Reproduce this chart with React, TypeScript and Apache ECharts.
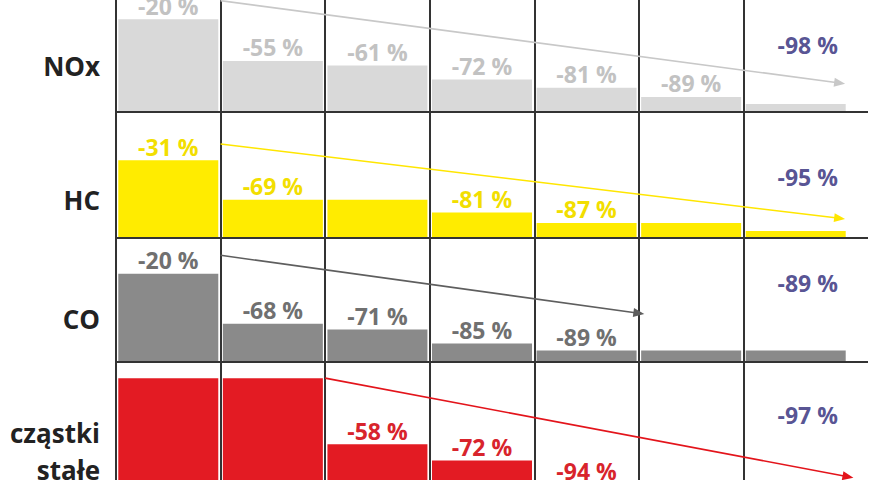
import { useEffect, useRef } from 'react';
import * as echarts from 'echarts';

// kolumny (etapy norm) – osie są ukryte
const stages = ['1', '2', '3', '4', '5', '6', '7'];

const noxLevels = [80, 44, 40, 28, 21, 13, 7];
const hcLevels = [67, 33, 33, 22, 13, 13, 6];
const coLevels = [76, 33, 28, 16, 10, 10, 10];
const pmLevels = [99, 99, 42, 28, 7, 7, 3];

// etykiety redukcji nad słupkami
const noxLabels = ['-20 %', '-55 %', '-61 %', '-72 %', '-81 %', '-89 %', ''];
const hcLabels = ['-31 %', '-69 %', '', '-81 %', '-87 %', '', ''];
const coLabels = ['-20 %', '-68 %', '-71 %', '-85 %', '-89 %', '', ''];
const pmLabels = ['', '', '-58 %', '-72 %', '-94 %', '', ''];

// redukcja końcowa (ostatnia kolumna) i jej wysokość na osi
const finalLabels = ['-98 %', '-95 %', '-89 %', '-97 %'];
const finalLevels = [58, 53, 68, 67];

// strzałki trendu: [x0, y0, x1, y1] w jednostkach osi (x: 0..7)
const noxArrow = [1, 96, 6.92, 25];
const hcArrow = [1, 81, 6.92, 17];
const coArrow = [1, 92, 5, 42];
const pmArrow = [2, 99, 7, 14];

const rowNames = ['NOx', 'HC', 'CO', 'cząstki\nstałe'];

const PX_PER_UNIT = 1.16;
const GRID_LEFT = 116;
const GRID_WIDTH = 732;
// wykres jest przycięty u góry – przesuwamy płótno w górę o ten offset
const OFFSET = 12;
const CANVAS_H = 510;

const rows = [
  { top: 0, height: 124, levels: noxLevels, labels: noxLabels, arrow: noxArrow, bar: '#d9d9d9', text: '#c2c2c2', line: '#c8c8c8', nameY: 78 },
  { top: 124, height: 126, levels: hcLevels, labels: hcLabels, arrow: hcArrow, bar: '#ffec00', text: '#f2de00', line: '#ffe600', nameY: 212 },
  { top: 250, height: 124, levels: coLevels, labels: coLabels, arrow: coArrow, bar: '#8a8a8a', text: '#707070', line: '#5e5e5e', nameY: 331 },
  { top: 374, height: 131, levels: pmLevels, labels: pmLabels, arrow: pmArrow, bar: '#e31b23', text: '#d8242c', line: '#e3141b', nameY: 463 },
];

const FONT = 'Open Sans';

const App = () => {
  const chartDom = useRef<HTMLDivElement>(null);

  useEffect(() => {
    document.body.style.margin = '0';
    const chart = echarts.init(chartDom.current, null, { renderer: 'svg' });

    const grid = rows.map((r) => ({ left: GRID_LEFT, width: GRID_WIDTH, top: r.top, height: r.height }));

    const xAxis: any[] = [];
    const yAxis: any[] = [];
    const series: any[] = [];

    rows.forEach((r, i) => {
      xAxis.push({
        type: 'category',
        gridIndex: i,
        data: stages,
        axisLine: { show: false },
        axisTick: { show: false },
        axisLabel: { show: false },
        splitLine: { show: true, interval: 0, showMaxLine: false, lineStyle: { color: '#333', width: 2 } },
      });
      xAxis.push({ type: 'value', gridIndex: i, min: 0, max: 7, show: false });
      yAxis.push({ type: 'value', gridIndex: i, min: 0, max: r.height / PX_PER_UNIT, show: false });

      series.push({
        type: 'bar',
        xAxisIndex: i * 2,
        yAxisIndex: i,
        data: r.levels,
        barWidth: 100,
        itemStyle: { color: r.bar },
        label: {
          show: true,
          position: 'top',
          distance: 2,
          formatter: (p: any) => r.labels[p.dataIndex],
          color: r.text,
          fontSize: 23,
          fontWeight: 'bold',
          fontFamily: FONT,
        },
        silent: true,
      });

      series.push({
        type: 'scatter',
        xAxisIndex: i * 2,
        yAxisIndex: i,
        data: [[stages.length - 1, finalLevels[i]]],
        symbolSize: 0,
        label: {
          show: true,
          position: 'inside',
          offset: [12, 0],
          formatter: finalLabels[i],
          color: '#2b2677',
          fontSize: 23,
          fontWeight: 'bold',
          fontFamily: FONT,
        },
        silent: true,
      });

      const [x0, y0, x1, y1] = r.arrow;
      series.push({
        type: 'line',
        xAxisIndex: i * 2 + 1,
        yAxisIndex: i,
        data: [],
        silent: true,
        markLine: {
          silent: true,
          symbol: ['none', 'triangle'],
          symbolSize: [9, 11],
          label: { show: false },
          lineStyle: { color: r.line, width: 1.6, type: 'solid' },
          emphasis: { disabled: true },
          data: [[{ coord: [x0, y0] }, { coord: [x1, y1] }]],
        },
      });
    });

    // linie poziome oddzielające wiersze
    const separators = rows.slice(0, 3).map((r) => ({
      type: 'line',
      shape: { x1: GRID_LEFT - 1, y1: r.top + r.height, x2: 868, y2: r.top + r.height },
      style: { stroke: '#333', lineWidth: 2 },
      z: 10,
    }));

    const names = rows.map((r, i) => ({
      type: 'text',
      x: 100,
      y: r.nameY,
      style: {
        text: rowNames[i],
        fill: '#222',
        font: `bold 26px "${FONT}"`,
        align: 'right',
        verticalAlign: 'middle',
        lineHeight: 37,
      },
    }));

    const option = {
      animation: false,
      grid,
      xAxis,
      yAxis,
      series,
      graphic: [...separators, ...names],
    };

    chart.setOption(option);
    return () => {
      chart.dispose();
    };
  }, []);

  return (
    <div style={{ width: 880, height: 480, overflow: 'hidden', position: 'relative' }}>
      <div ref={chartDom} style={{ position: 'absolute', left: 0, top: -OFFSET, width: 880, height: CANVAS_H }} />
    </div>
  );
};

export default App;
